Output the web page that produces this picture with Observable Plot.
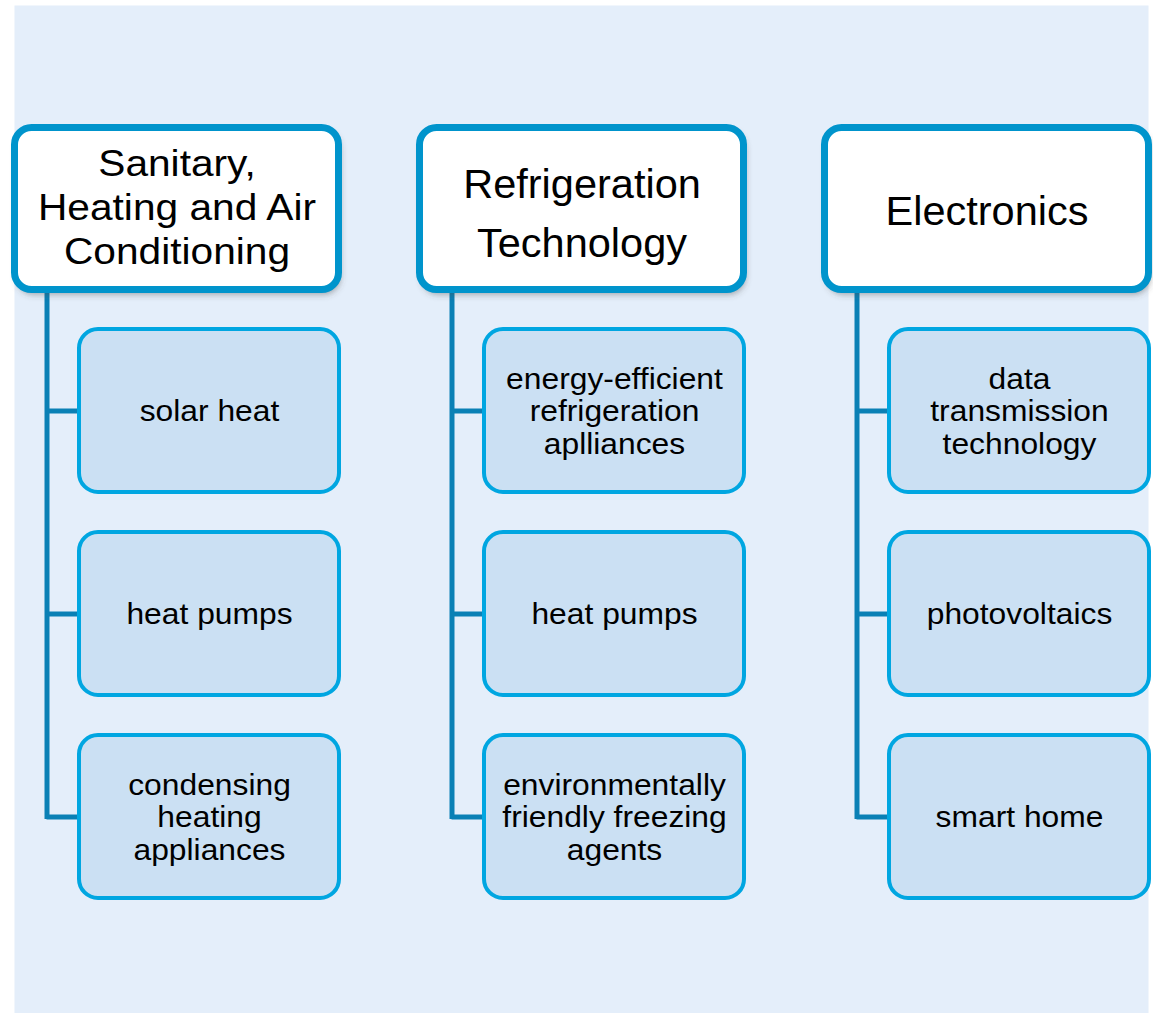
<!DOCTYPE html>
<html>
<head>
<meta charset="utf-8">
<script src="https://cdn.jsdelivr.net/npm/d3@7"></script>
<script src="https://cdn.jsdelivr.net/npm/@observablehq/plot@0.6"></script>
<style>
  html, body { margin: 0; padding: 0; background: #ffffff; }
  #chart svg { display: block; }
</style>
</head>
<body>
<div id="chart"></div>
<script>
// ---------- data ----------
const categories = [
  "Sanitary,\nHeating and Air\nConditioning",
  "Refrigeration\nTechnology",
  "Electronics"
];
const itemsSanitary = ["solar heat", "heat pumps", "condensing\nheating\nappliances"];
const itemsRefrigeration = ["energy-efficient\nrefrigeration\naplliances", "heat pumps", "environmentally\nfriendly freezing\nagents"];
const itemsElectronics = ["data\ntransmission\ntechnology", "photovoltaics", "smart home"];
const items = [itemsSanitary, itemsRefrigeration, itemsElectronics];

// ---------- layout ----------
const W = 1153, H = 1013;
const colStep = 405;
const headX0 = 14.5, headW = 324, headY1 = 127.5, headY2 = 289.5, headRx = 17;
const childDX = 64.5, childW = 260, childY0 = 329, childH = 163, rowStep = 203, childRx = 19;
const trunkDX = 32;
const headFontSize = [36, 41.5, 41.5];
const headLineHeight = [1.22, 1.42, 1.2];
const headStretch = [1.13, 1.0, 1.0];
const childFontSize = 30, childLineHeight = 1.08, childStretch = 1.06;
const font = "'Liberation Sans', Arial, Helvetica, sans-serif";
const colors = {
  panel: "#e4eefa",
  headStroke: "#0094cc",
  childStroke: "#00a6e1",
  childFill: "#cbe0f3",
  connector: "#0a80b5",
  shadow: "#4a4a4a"
};

const headers = categories.map((label, i) => ({
  i, label,
  x1: headX0 + i * colStep, x2: headX0 + i * colStep + headW,
  y1: headY1, y2: headY2
}));
const children = items.flatMap((list, i) => list.map((label, j) => ({
  i, j, label,
  x1: headX0 + i * colStep + childDX,
  x2: headX0 + i * colStep + childDX + childW,
  y1: childY0 + j * rowStep,
  y2: childY0 + j * rowStep + childH
})));
const trunks = items.map((list, i) => ({
  x: headX0 + i * colStep + trunkDX,
  y1: headY2,
  y2: childY0 + (list.length - 1) * rowStep + childH / 2 + 2.5
}));
const branches = children.map(c => ({
  y: (c.y1 + c.y2) / 2,
  x1: headX0 + c.i * colStep + trunkDX,
  x2: c.x1
}));

const headerTextMarks = headers.map((h, i) => Plot.text([h], {
  x: d => (d.x1 + d.x2) / 2,
  y: d => (d.y1 + d.y2) / 2 - (i === 0 ? 3 : 0),
  text: "label",
  fontSize: headFontSize[i],
  lineHeight: headLineHeight[i],
  fontFamily: font,
  fill: "#000"
}));

const chart = Plot.plot({
  width: W,
  height: H,
  marginLeft: 14,
  marginRight: 5,
  marginTop: 5,
  marginBottom: 0,
  style: {background: "transparent", fontFamily: font},
  x: {type: "linear", domain: [0, W], range: [0, W], axis: null},
  y: {type: "linear", domain: [0, H], range: [0, H], axis: null},
  marks: [
    Plot.frame({fill: colors.panel, stroke: "none"}),
    Plot.ruleX(trunks, {x: "x", y1: "y1", y2: "y2", stroke: colors.connector, strokeWidth: 5}),
    Plot.ruleY(branches, {y: "y", x1: "x1", x2: "x2", stroke: colors.connector, strokeWidth: 5}),
    Plot.rect(headers, {
      x1: d => d.x1 + 2, x2: d => d.x2 + 2, y1: d => d.y1 + 4, y2: d => d.y2 + 5,
      rx: headRx, fill: colors.shadow, fillOpacity: 0.45
    }),
    Plot.rect(headers, {
      x1: "x1", x2: "x2", y1: "y1", y2: "y2",
      rx: headRx, fill: "#ffffff", stroke: colors.headStroke, strokeWidth: 7
    }),
    ...headerTextMarks,
    Plot.rect(children, {
      x1: "x1", x2: "x2", y1: "y1", y2: "y2",
      rx: childRx, fill: colors.childFill, stroke: colors.childStroke, strokeWidth: 4
    }),
    Plot.text(children, {
      x: d => (d.x1 + d.x2) / 2,
      y: d => (d.y1 + d.y2) / 2,
      text: "label",
      fontSize: childFontSize,
      lineHeight: childLineHeight,
      fontFamily: font,
      fill: "#000"
    })
  ]
});

document.getElementById("chart").appendChild(chart);

// soft shadow under header boxes
const svg = d3.select(chart);
const defs = svg.insert("defs", ":first-child");
defs.append("filter").attr("id", "hdrShadow")
  .attr("x", "-10%").attr("y", "-10%").attr("width", "120%").attr("height", "130%")
  .append("feGaussianBlur").attr("stdDeviation", 3);
svg.selectAll("g").filter(function () {
  return (this.getAttribute("fill") || "").toLowerCase() === colors.shadow;
}).attr("filter", "url(#hdrShadow)");

// horizontal stretch of text around its own centre, as in the reference rendering
function stretchText(el, k) {
  const b = el.getBBox();
  const cx = b.x + b.width / 2;
  const t = el.getAttribute("transform") || "";
  el.setAttribute("transform", `${t} translate(${cx},0) scale(${k},1) translate(${-cx},0)`.trim());
}
const headKey = new Map(categories.map((c, i) => [c.replace(/\n/g, ""), i]));
const childKeys = new Set(items.flat().map(c => c.replace(/\n/g, "")));
svg.selectAll("text").each(function () {
  const key = (this.textContent || "").replace(/\n/g, "");
  if (headKey.has(key)) {
    const k = headStretch[headKey.get(key)];
    if (k !== 1) stretchText(this, k);
  } else if (childKeys.has(key)) {
    stretchText(this, childStretch);
  }
});
</script>
</body>
</html>
